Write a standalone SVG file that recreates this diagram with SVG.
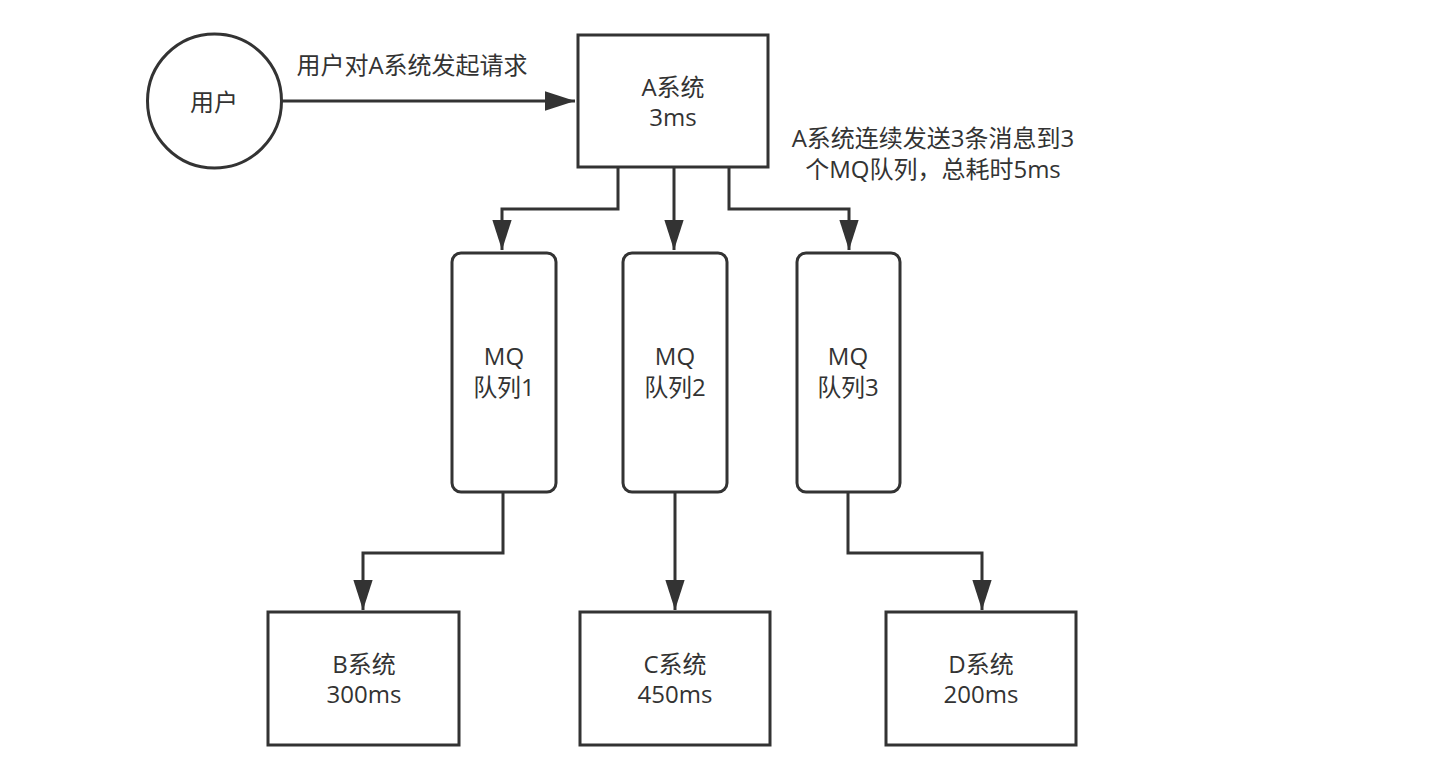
<svg xmlns="http://www.w3.org/2000/svg" width="1451" height="780" viewBox="0 0 1451 780">
<style>
  .shape{fill:#ffffff;stroke:#333333;stroke-width:3}
  .edge{fill:none;stroke:#333333;stroke-width:3}
  text{font-family:"Open Sans","Noto Sans CJK SC",sans-serif;font-size:24px;fill:#333333;text-anchor:middle}
</style>
<defs>
  <marker id="arrow" markerUnits="userSpaceOnUse" markerWidth="30" markerHeight="20" viewBox="0 0 28 18" refX="28" refY="9" orient="auto">
    <path d="M0,0 L28,9 L0,18 z" fill="#333333"/>
  </marker>
</defs>
<rect width="1451" height="780" fill="#ffffff"/>
<g id="connectors">
  <path class="edge" d="M282,101 H575" marker-end="url(#arrow)"/>
  <path class="edge" d="M618,167 V209 H502 V250" marker-end="url(#arrow)"/>
  <path class="edge" d="M674,167 V250" marker-end="url(#arrow)"/>
  <path class="edge" d="M729,167 V209 H849 V250" marker-end="url(#arrow)"/>
  <path class="edge" d="M503,492 V553 H363 V610" marker-end="url(#arrow)"/>
  <path class="edge" d="M675,492 V610" marker-end="url(#arrow)"/>
  <path class="edge" d="M848,492 V553 H982 V610" marker-end="url(#arrow)"/>
  <text x="412" y="74">用户对A系统发起请求</text>
  <text x="933" y="147">A系统连续发送3条消息到3</text>
  <text x="933" y="178">个MQ队列，总耗时5ms</text>
</g>
<g id="user">
  <circle class="shape" cx="214.5" cy="101" r="67"/>
  <text x="214" y="111">用户</text>
</g>
<g id="systemA">
  <rect class="shape" x="578" y="35" width="190" height="132"/>
  <text x="673" y="96">A系统</text>
  <text x="673" y="126">3ms</text>
</g>
<g id="mq1">
  <rect class="shape" x="452" y="253" width="104" height="239" rx="9"/>
  <text x="504" y="365">MQ</text>
  <text x="504" y="396">队列1</text>
</g>
<g id="mq2">
  <rect class="shape" x="623" y="253" width="104" height="239" rx="9"/>
  <text x="675" y="365">MQ</text>
  <text x="675" y="396">队列2</text>
</g>
<g id="mq3">
  <rect class="shape" x="797" y="253" width="103" height="239" rx="9"/>
  <text x="848" y="365">MQ</text>
  <text x="848" y="396">队列3</text>
</g>
<g id="systemB">
  <rect class="shape" x="268" y="612" width="191" height="133"/>
  <text x="364" y="673">B系统</text>
  <text x="364" y="703">300ms</text>
</g>
<g id="systemC">
  <rect class="shape" x="580" y="612" width="190" height="133"/>
  <text x="675" y="673">C系统</text>
  <text x="675" y="703">450ms</text>
</g>
<g id="systemD">
  <rect class="shape" x="886" y="612" width="190" height="133"/>
  <text x="981" y="673">D系统</text>
  <text x="981" y="703">200ms</text>
</g>
</svg>
